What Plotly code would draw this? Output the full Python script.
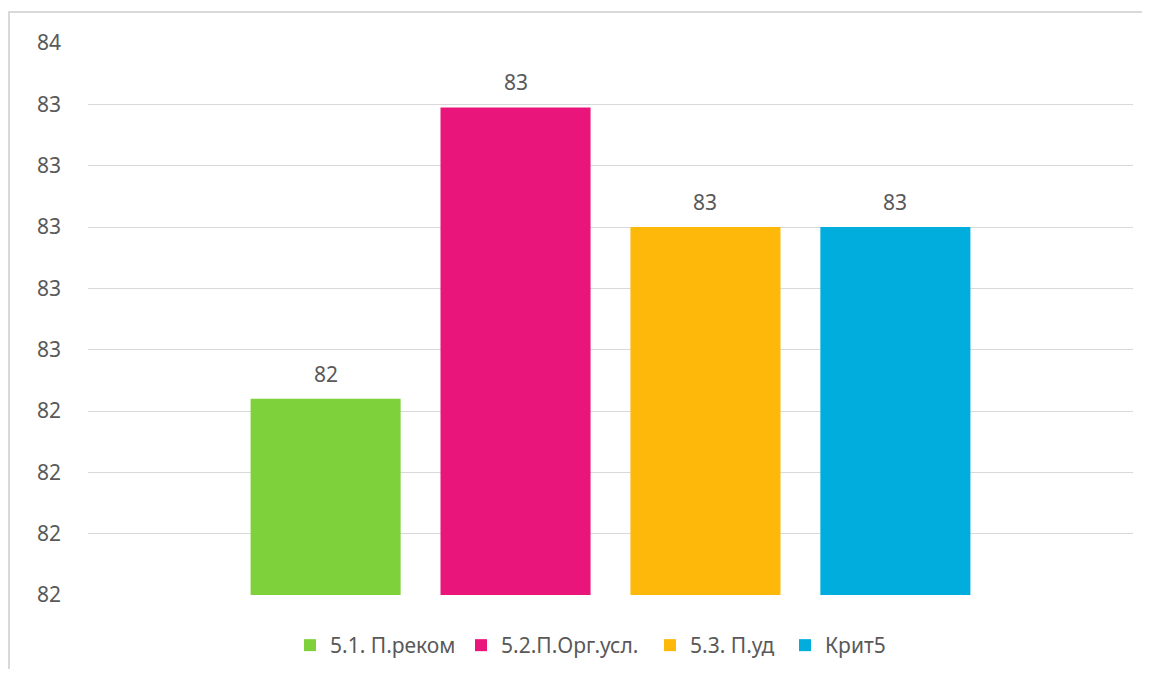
import plotly.graph_objects as go

series = ["5.1. П.реком", "5.2.П.Орг.усл.", "5.3. П.уд", "Крит5"]
values = [82.44, 83.39, 83.0, 83.0]
labels = ["82", "83", "83", "83"]
colors = ["#7fd13b", "#ea157a", "#feb80a", "#00addc"]
category = ["Критерий 5"]
y_tick_vals = [81.8, 82.0, 82.2, 82.4, 82.6, 82.8, 83.0, 83.2, 83.4, 83.6]
y_tick_text = ["82", "82", "82", "82", "83", "83", "83", "83", "83", "84"]

OFF = 8  # page body margin
W, H = 1150 - 2 * OFF, 677 - 2 * OFF
L, T = 88 - OFF, 43 - OFF
pw, ph = 1045, 552
R, B = W - L - pw, H - T - ph
FONT = "Noto Sans"
TXT = "#595959"
FS = 21

def px_x(sx):
    return (sx - (L + OFF)) / pw

def px_y(sy):
    return ((T + OFF) + ph - sy) / ph

def cy(sy):
    return (H - (sy - OFF)) / H

legend_left_px = [305, 476, 665, 800]
legend_ids = ["legend", "legend2", "legend3", "legend4"]

fig = go.Figure()
for s, v, c, lg in zip(series, values, colors, legend_ids):
    fig.add_trace(go.Bar(name=s, x=category, y=[v], marker_color=c, marker_line_width=0, legend=lg))

bargap = 0.273
n = len(series)
slot = (1 - bargap) / n
for i, (v, t) in enumerate(zip(values, labels)):
    fig.add_annotation(x=-(1 - bargap) / 2 + slot * (i + 0.5), y=v, xref="x", yref="y",
                       text=t, showarrow=False, yshift=25,
                       font=dict(family=FONT, size=FS, color=TXT))

fig.add_shape(type="rect", xref="paper", yref="paper",
              x0=px_x(9), x1=px_x(1165), y0=px_y(700), y1=px_y(12),
              line=dict(color="#d9d9d9", width=2), fillcolor="rgba(0,0,0,0)", layer="below")

legends = {}
for lg, lx in zip(legend_ids, legend_left_px):
    legends[lg] = dict(orientation="h", x=px_x(lx - 15), xanchor="left",
                       y=cy(625), yref="container", yanchor="top",
                       font=dict(family=FONT, size=FS, color=TXT), itemwidth=30,
                       bgcolor="rgba(0,0,0,0)", borderwidth=0)

fig.update_layout(
    width=W, height=H,
    margin=dict(l=L, r=R, t=T, b=B, pad=0, autoexpand=False),
    paper_bgcolor="white", plot_bgcolor="white",
    barmode="group", bargap=bargap, bargroupgap=0.21,
    font=dict(family=FONT, size=FS, color=TXT),
    showlegend=True,
    xaxis=dict(showticklabels=False, showgrid=False, zeroline=False, showline=False, fixedrange=True),
    yaxis=dict(range=[81.8, 83.6], tickvals=y_tick_vals, ticktext=y_tick_text,
               showgrid=True, gridcolor="#d9d9d9", gridwidth=1.3, zeroline=False, showline=False,
               ticks="", ticklabelstandoff=26, tickfont=dict(family=FONT, size=FS, color=TXT)),
    **legends,
)
fig.write_html("out.html")
